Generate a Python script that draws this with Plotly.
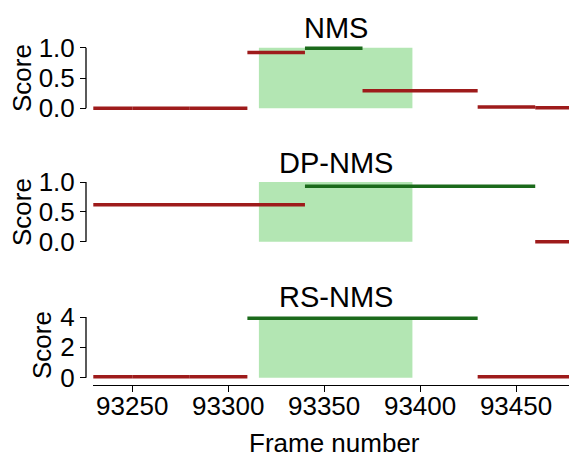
import plotly.graph_objects as go

W, H = 569, 453

# --- data -----------------------------------------------------------------
# Each method: per-window segments (start frame, end frame, score, kept flag)
nms_start = [93220, 93250, 93280, 93310, 93340, 93370, 93430, 93460]
nms_end = [93250, 93280, 93310, 93340, 93370, 93430, 93460, 93490]
nms_score = [0.0, 0.0, 0.0, 0.92, 0.99, 0.29, 0.02, 0.01]
nms_kept = [0, 0, 0, 0, 1, 0, 0, 0]

dp_start = [93220, 93340, 93460]
dp_end = [93340, 93460, 93490]
dp_score = [0.62, 0.93, 0.0]
dp_kept = [0, 1, 0]

rs_start = [93220, 93250, 93280, 93310, 93430]
rs_end = [93250, 93280, 93310, 93430, 93490]
rs_score = [0.06, 0.06, 0.06, 3.92, 0.06]
rs_kept = [0, 0, 0, 1, 0]

# ground-truth interval (frames)
gt_start, gt_end = 93316, 93396

panel_titles = ["NMS", "DP-NMS", "RS-NMS"]
panel_ticks = [[0, 0.5, 1.0], [0, 0.5, 1.0], [0, 2, 4]]
panel_ticktext = [["0.0", "0.5", "1.0"], ["0.0", "0.5", "1.0"], ["0", "2", "4"]]
panel_spine = [(0, 1.0), (0, 1.0), (0, 4)]
gt_top = [1.0, 1.0, 3.9]
x_ticks = [93250, 93300, 93350, 93400, 93450]
x_ticktext = [str(v) for v in x_ticks]

# --- styling ------------------------------------------------------------
RED = "#9e1b1b"
GREEN = "#1b6a1b"
SHADE = "#b3e6b3"
FONT = "Liberation Sans, Arial, sans-serif"

# pixel layout helpers
def px_x(p):
    return p / W

def px_y(p):
    return 1 - p / H

x_left_px = 93.3
x_range = [93229.7, 93477.6]
spine_x_px = 86

# panel geometry: (pixel of top tick, pixel of y=0, top tick value, range pad)
panel_geom = [(47.7, 108.3, 1.0, 0.05), (182.0, 241.7, 1.0, 0.05), (317.0, 377.7, 4.0, 0.2)]

fig = go.Figure()

series = [
    (nms_start, nms_end, nms_score, nms_kept),
    (dp_start, dp_end, dp_score, dp_kept),
    (rs_start, rs_end, rs_score, rs_kept),
]

for i, (starts, ends, scores, kept) in enumerate(series):
    xa = "x" if i == 0 else f"x{i + 1}"
    ya = "y" if i == 0 else f"y{i + 1}"
    # ground-truth shading
    fig.add_shape(type="rect", xref=xa, yref=ya, x0=gt_start, x1=gt_end,
                  y0=0, y1=gt_top[i], fillcolor=SHADE, line_width=0, layer="below")
    for s, e, v, k in zip(starts, ends, scores, kept):
        fig.add_trace(go.Scatter(
            x=[s, e], y=[v, v], mode="lines",
            line=dict(color=GREEN if k else RED, width=3.5),
            xaxis=xa, yaxis=ya, showlegend=False, hoverinfo="skip"))

    top_px, zero_px, top_val, pad = panel_geom[i]
    ppu = (zero_px - top_px) / top_val
    d_top = top_px - pad * ppu
    d_bot = zero_px + pad * ppu
    yaxis = dict(
        domain=[px_y(d_bot), px_y(d_top)],
        range=[-pad, top_val + pad],
        anchor="free", position=px_x(spine_x_px), automargin=False,
        showline=False, showgrid=False, zeroline=False,
        ticks="outside", ticklen=6, tickwidth=1.3, tickcolor="black",
        tickvals=panel_ticks[i], ticktext=panel_ticktext[i],
        tickfont=dict(size=26, color="black", family=FONT),
    )
    xaxis = dict(
        domain=[px_x(x_left_px), 1], range=x_range, automargin=False,
        showgrid=False, zeroline=False,
    )
    if i < 2:
        xaxis.update(visible=False, matches="x3")
    else:
        xaxis.update(
            anchor="free", position=px_y(385),
            showline=True, linecolor="black", linewidth=1.3,
            ticks="outside", ticklen=6, tickwidth=1.3, tickcolor="black",
            tickvals=x_ticks, ticktext=x_ticktext, ticklabelstandoff=-8,
            tickfont=dict(size=26, color="black", family=FONT),
        )
    fig.update_layout(**{("yaxis" if i == 0 else f"yaxis{i + 1}"): yaxis,
                         ("xaxis" if i == 0 else f"xaxis{i + 1}"): xaxis})

    # bounded left spine
    lo, hi = panel_spine[i]
    fig.add_shape(type="line", xref="paper", yref=ya,
                  x0=px_x(spine_x_px), x1=px_x(spine_x_px), y0=lo, y1=hi,
                  line=dict(color="black", width=1.3))

# panel titles
title_y_px = [28.5, 163.5, 296.5]
for t, ypx in zip(panel_titles, title_y_px):
    fig.add_annotation(text=t, xref="paper", yref="paper", x=px_x(335.5), y=px_y(ypx),
                       xanchor="center", yanchor="middle", showarrow=False,
                       font=dict(size=29, color="black", family=FONT))

# y-axis titles
score_pos = [(22, 78), (22, 212), (42, 345)]
for xp, yp in score_pos:
    fig.add_annotation(text="Score", xref="paper", yref="paper", x=px_x(xp), y=px_y(yp),
                       xanchor="center", yanchor="middle", textangle=-90, showarrow=False,
                       font=dict(size=26, color="black", family=FONT))

# x-axis title
fig.add_annotation(text="Frame number", xref="paper", yref="paper", x=px_x(334), y=px_y(443),
                   xanchor="center", yanchor="middle", showarrow=False,
                   font=dict(size=26, color="black", family=FONT))

fig.update_layout(
    width=W, height=H,
    margin=dict(l=0, r=0, t=0, b=0, autoexpand=False),
    paper_bgcolor="white", plot_bgcolor="white",
    font=dict(family=FONT, color="black"),
)

fig.write_html("out.html")
